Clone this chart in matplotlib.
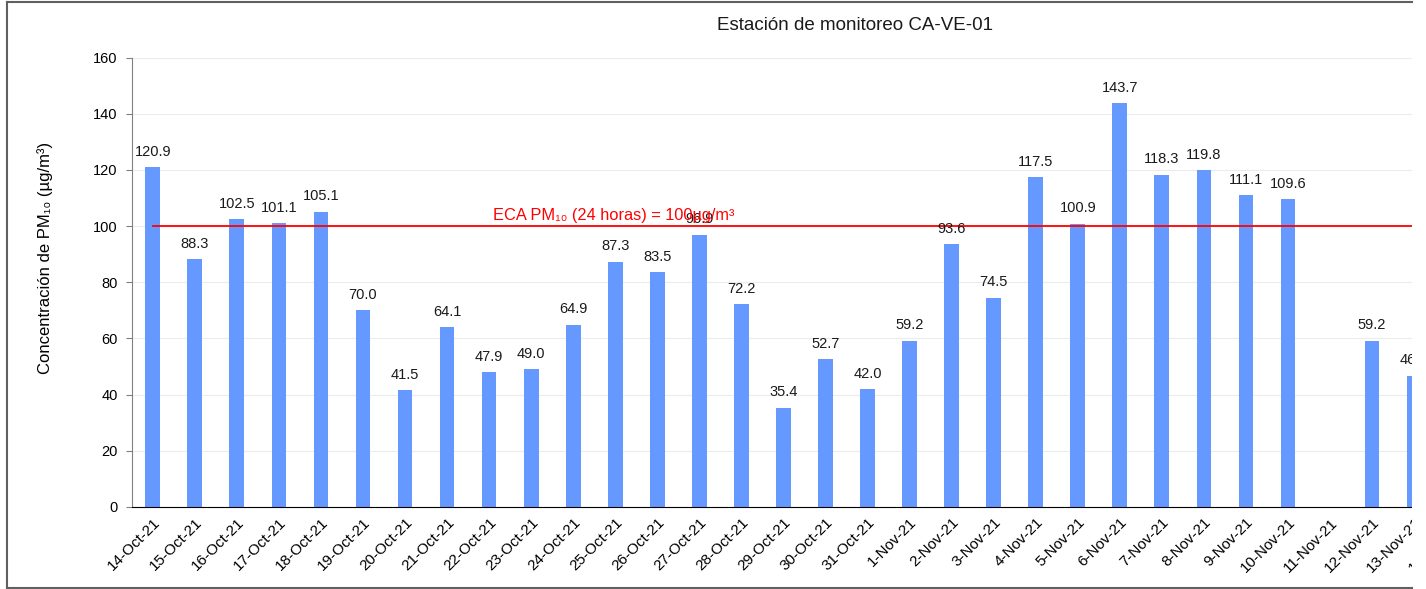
import numpy as np
import matplotlib
matplotlib.use("Agg")
import matplotlib.pyplot as plt
from matplotlib.lines import Line2D
from matplotlib.patches import Rectangle

plt.rcParams['font.family'] = ['Liberation Sans', 'DejaVu Sans']

dates = ['14-Oct-21', '15-Oct-21', '16-Oct-21', '17-Oct-21', '18-Oct-21',
         '19-Oct-21', '20-Oct-21', '21-Oct-21', '22-Oct-21', '23-Oct-21',
         '24-Oct-21', '25-Oct-21', '26-Oct-21', '27-Oct-21', '28-Oct-21',
         '29-Oct-21', '30-Oct-21', '31-Oct-21', '1-Nov-21', '2-Nov-21',
         '3-Nov-21', '4-Nov-21', '5-Nov-21', '6-Nov-21', '7-Nov-21',
         '8-Nov-21', '9-Nov-21', '10-Nov-21', '11-Nov-21', '12-Nov-21',
         '13-Nov-21', '14-Nov-21']
pm10 = [120.9, 88.3, 102.5, 101.1, 105.1, 70.0, 41.5, 64.1, 47.9, 49.0,
        64.9, 87.3, 83.5, 96.9, 72.2, 35.4, 52.7, 42.0, 59.2, 93.6,
        74.5, 117.5, 100.9, 143.7, 118.3, 119.8, 111.1, 109.6, np.nan, 59.2,
        46.7, np.nan]
eca_limit = 100

W, H = 1426, 589
fig = plt.figure(figsize=(W / 100, H / 100), dpi=100)

# axes run past the right edge, the original picture is cropped there
x0, x1 = 131.7, 152 + 31.5 * 42.07
y0, y1 = 507, 57.5
ax = fig.add_axes([x0 / W, 1 - y0 / H, (x1 - x0) / W, (y0 - y1) / H])

x = np.arange(len(dates))
vals = np.array(pm10)
ax.bar(x, vals, width=0.35, color='#6699ff', zorder=2)

for xi, v in zip(x, vals):
    if not np.isnan(v):
        ax.annotate(f'{v:.1f}', (xi, v), xytext=(0, 6), textcoords='offset points',
                    ha='center', va='bottom', fontsize=10.5, color='#1a1a1a', zorder=4)

ax.plot([0, len(dates) - 0.5], [eca_limit, eca_limit], color='#ff0000', lw=1.3, zorder=3)
ax.text(10.96, eca_limit + 1.0, 'ECA PM\u2081\u2080 (24 horas) = 100µg/m³', color='#ff0000',
        ha='center', va='bottom', fontsize=11.8, zorder=5)

ax.set_xlim(-0.5, len(dates) - 0.5)
ax.set_ylim(0, 160)
ax.set_yticks(np.arange(0, 161, 20))
ax.set_xticks(x)
ax.set_xticklabels(dates, rotation=45, ha='right', rotation_mode='anchor', fontsize=11)
ax.tick_params(axis='x', length=0, pad=6)
ax.tick_params(axis='y', length=4, color='#808080', labelsize=10.5, pad=6)
ax.grid(axis='y', color='#ececec', lw=0.8, zorder=0)
ax.set_axisbelow(True)
for s in ['top', 'right']:
    ax.spines[s].set_visible(False)
ax.spines['left'].set_color('#808080')
ax.spines['bottom'].set_color('#000000')

ax.set_ylabel('Concentración de PM\u2081\u2080 (µg/m³)', fontsize=12)
ax.yaxis.set_label_coords(-0.0585, 0.554)
fig.text(855 / W, 1 - 25 / H, 'Estación de monitoreo CA-VE-01', ha='center', va='center',
         fontsize=13.5, color='#1a1a1a')

# cropped edge on the right
fig.add_artist(Rectangle((1411.5 / W, 0), 1, 1, transform=fig.transFigure,
                         facecolor='white', edgecolor='none', zorder=20))
# outer frame (left, top, bottom)
frame = dict(color='#606060', lw=1.5, transform=fig.transFigure, zorder=21)
fig.add_artist(Line2D([7 / W, 7 / W], [1 / H, 1 - 2 / H], **frame))
fig.add_artist(Line2D([7 / W, 1411.5 / W], [1 - 2 / H, 1 - 2 / H], **frame))
fig.add_artist(Line2D([7 / W, 1411.5 / W], [1.5 / H, 1.5 / H], **frame))

fig.savefig('out.png', dpi=100)
